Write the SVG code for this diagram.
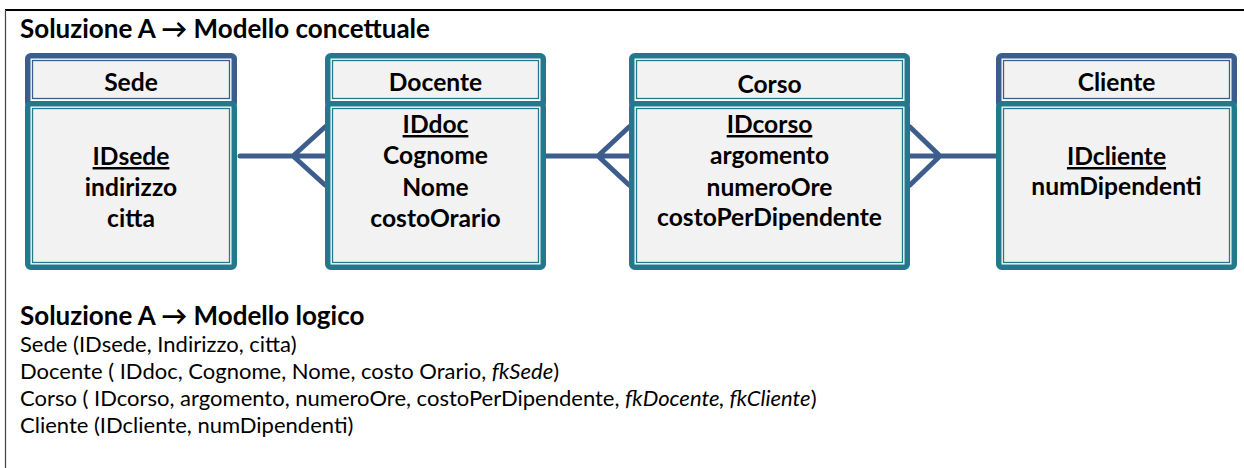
<svg xmlns="http://www.w3.org/2000/svg" width="1244" height="468" viewBox="0 0 1244 468">
<style>
.ho{fill:#ffffff;stroke-width:5.5}
.blue{stroke:#3B5D8C}
.teal{stroke:#21798B}
.hi{fill:#F2F2F2;stroke:#21798B;stroke-width:1.3}
.hib{fill:#F2F2F2;stroke:#3B5D8C;stroke-width:1.3}
.t{font-family:Lato,"Liberation Sans",sans-serif;font-weight:bold;font-size:24.6px;fill:#000;text-anchor:middle}
.u{text-decoration:underline}
.ttl{font-family:Lato,"Liberation Sans",sans-serif;font-weight:bold;font-size:26px;fill:#000}
.lg{font-family:Lato,"Liberation Sans",sans-serif;font-size:22px;fill:#000}
.c{fill:none;stroke:#3D5E8C;stroke-width:5;stroke-linecap:round;stroke-linejoin:round}
</style>
<rect width="1244" height="468" fill="#ffffff"/>
<line x1="5" y1="10" x2="1244" y2="10" stroke="#000" stroke-width="2"/>
<line x1="5.5" y1="10" x2="5.5" y2="468" stroke="#444" stroke-width="1.2"/>
<text class="ttl" x="20" y="38">Soluzione A → Modello concettuale</text>
<g id="connectors">
<path class="c" d="M240,156 L325,156 M325,127 L293,156 L325,185"/>
<path class="c" d="M546,156 L629,156 M629,127 L598,156 L629,185"/>
<path class="c" d="M910,156 L996,156 M910,127 L940,156 L910,185"/>
</g>
<g id="sede">
<rect class="ho blue" x="27.75" y="55.75" width="206.5" height="50" rx="3"/>
<rect class="hib" x="32.5" y="60.5" width="197" height="38"/>
<rect class="ho teal" x="27.75" y="103.75" width="206.5" height="163.5" rx="3"/>
<rect class="hi" x="32.5" y="108.5" width="197" height="154"/>
<text class="t" x="131" y="90.5">Sede</text>
<text class="t" x="131" y="165"><tspan class="u">IDsede</tspan></text>
<text class="t" x="131" y="196">indirizzo</text>
<text class="t" x="131" y="227">citta</text>
</g>
<g id="docente">
<rect class="ho teal" x="327.75" y="55.75" width="215.5" height="50" rx="3"/>
<rect class="hi" x="332.5" y="60.5" width="206" height="38"/>
<rect class="ho teal" x="327.75" y="103.75" width="215.5" height="163.5" rx="3"/>
<rect class="hi" x="332.5" y="108.5" width="206" height="154"/>
<text class="t" x="435.5" y="90.5">Docente</text>
<text class="t" x="435.5" y="133"><tspan class="u">IDdoc</tspan></text>
<text class="t" x="435.5" y="164">Cognome</text>
<text class="t" x="435.5" y="196">Nome</text>
<text class="t" x="435.5" y="227">costoOrario</text>
</g>
<g id="corso">
<rect class="ho teal" x="631.75" y="55.75" width="275.5" height="50" rx="3"/>
<rect class="hi" x="636.5" y="60.5" width="266" height="38"/>
<rect class="ho teal" x="631.75" y="103.75" width="275.5" height="163.5" rx="3"/>
<rect class="hi" x="636.5" y="108.5" width="266" height="154"/>
<text class="t" x="769.5" y="92.5">Corso</text>
<text class="t" x="769.5" y="133"><tspan class="u">IDcorso</tspan></text>
<text class="t" x="769.5" y="164">argomento</text>
<text class="t" x="769.5" y="196">numeroOre</text>
<text class="t" x="769.5" y="226">costoPerDipendente</text>
</g>
<g id="cliente">
<rect class="ho blue" x="998.75" y="55.75" width="235.5" height="50" rx="3"/>
<rect class="hib" x="1003.5" y="60.5" width="226" height="38"/>
<rect class="ho teal" x="998.75" y="103.75" width="235.5" height="163.5" rx="3"/>
<rect class="hi" x="1003.5" y="108.5" width="226" height="154"/>
<text class="t" x="1116.5" y="90.5">Cliente</text>
<text class="t" x="1116.5" y="165"><tspan class="u">IDcliente</tspan></text>
<text class="t" x="1116.5" y="195">numDipendenti</text>
</g>
<text class="ttl" x="20" y="325">Soluzione A → Modello logico</text>
<text class="lg" x="20" y="352">Sede (IDsede, Indirizzo, citta)</text>
<text class="lg" x="20" y="379">Docente ( IDdoc, Cognome, Nome, costo Orario, <tspan font-style="italic">fkSede</tspan>)</text>
<text class="lg" x="20" y="406">Corso ( IDcorso, argomento, numeroOre, costoPerDipendente, <tspan font-style="italic">fkDocente, fkCliente</tspan>)</text>
<text class="lg" x="20" y="433">Cliente (IDcliente, numDipendenti)</text>
</svg>
